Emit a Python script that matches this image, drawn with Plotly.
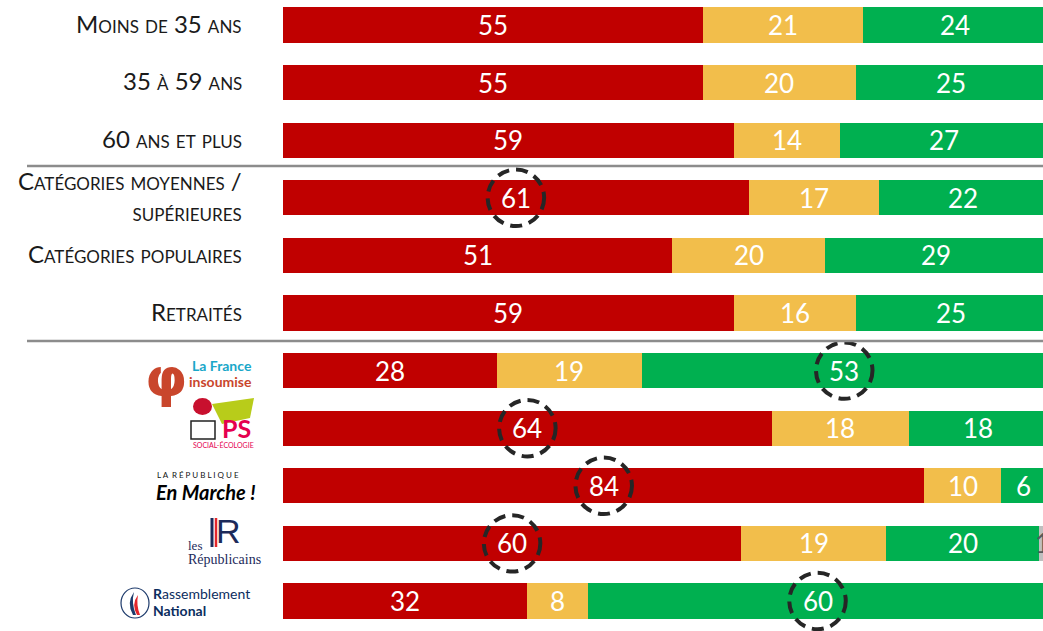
import plotly.graph_objects as go

# ---------------- data ----------------
labels = ["Moins de 35 ans", "35 à 59 ans", "60 ans et plus",
          "Catégories moyennes /<br>supérieures", "Catégories populaires", "Retraités",
          "La France insoumise", "PS", "En Marche !", "Les Républicains", "Rassemblement National"]
red_vals = [55, 55, 59, 61, 51, 59, 28, 64, 84, 60, 32]
yellow_vals = [21, 20, 14, 17, 20, 16, 19, 18, 10, 19, 8]
green_vals = [24, 25, 27, 22, 29, 25, 53, 18, 6, 20, 60]
grey_vals = [0, 0, 0, 0, 0, 0, 0, 0, 0, 1, 0]
# which segment is circled per row (None / 'red' / 'green')
circled = [None, None, None, "red", None, None, "green", "red", "red", "red", "green"]
text_label_rows = 6  # first 6 rows have text labels, others are party logos

W, H = 1043, 631
RED, YEL, GRN, GRY = "#C00000", "#F2BE4B", "#00B050", "#BFBFBF"

rows = list(range(len(labels)))
fig = go.Figure()
series = [("red", red_vals, RED), ("yellow", yellow_vals, YEL),
          ("green", green_vals, GRN), ("grey", grey_vals, GRY)]
for name, vals, col in series:
    fig.add_trace(go.Bar(y=rows, x=vals, orientation="h", name=name,
                         marker=dict(color=col, line=dict(width=0)),
                         width=0.61, hoverinfo="skip"))

def px(x):
    return x / W

def py(y):
    return 1 - y / H

annotations = []
shapes = []
# value labels
for i in rows:
    start = 0
    for name, vals, col in series:
        v = vals[i]
        if v > 0:
            c = start + v / 2
            annotations.append(dict(x=c, y=i, xref="x", yref="y", text=str(v), showarrow=False,
                                    font=dict(family="Lato", size=26,
                                              color="white" if name != "grey" else "#595959")))
            if circled[i] == name:
                shapes.append(dict(type="circle", xref="x", yref="y",
                                   x0=c - 3.7, x1=c + 3.7, y0=i - 0.49, y1=i + 0.49,
                                   line=dict(color="#262626", width=4, dash="12px,7px")))
        start += v

# row text labels
for i in range(text_label_rows):
    annotations.append(dict(x=px(244), y=i, xref="paper", yref="y", text=labels[i],
                            xanchor="right", showarrow=False, align="right", yshift=2,
                            font=dict(family="Lato", size=24, color="#1a1a1a", variant="small-caps")))

# separators
for yy in (166, 341):
    shapes.append(dict(type="line", xref="paper", yref="paper", x0=px(27), x1=1,
                       y0=py(yy), y1=py(yy), line=dict(color="#8C8C8C", width=2.5)))

# ---- party logos (approximations) ----
def ann(x, y, text, size, color, xanchor="center", family="Lato", **kw):
    annotations.append(dict(x=px(x), y=py(y), xref="paper", yref="paper", text=text,
                            showarrow=False, xanchor=xanchor, yanchor="middle",
                            font=dict(family=family, size=size, color=color, **kw)))

# LFI
ann(166, 377, "<b>φ</b>", 54, "#C9462C", family="DejaVu Sans")
ann(254, 365, "<b>La France</b>", 14, "#1AA7C9", xanchor="right")
ann(254, 381, "<b>insoumise</b>", 14, "#C9462C", xanchor="right")
# PS
shapes.append(dict(type="path", xref="paper", yref="paper", fillcolor="#B8CC1A", line=dict(width=0),
                   path=f"M {px(212)} {py(404)} L {px(254)} {py(398)} L {px(250)} {py(418)} L {px(222)} {py(424)} Z"))
shapes.append(dict(type="circle", xref="paper", yref="paper", fillcolor="#C8102E", line=dict(width=0),
                   x0=px(193), x1=px(212), y0=py(398), y1=py(415)))
shapes.append(dict(type="rect", xref="paper", yref="paper", fillcolor="white", line=dict(width=1.5, color="#222"),
                   x0=px(191), x1=px(215), y0=py(421), y1=py(439)))
ann(253, 428, "<b>PS</b>", 25, "#E5004F", xanchor="right")
ann(223, 445, "SOCIAL-ÉCOLOGIE", 7, "#E5004F")
# LREM
ann(198, 475, "L A  R É P U B L I Q U E", 8, "#111")
ann(258, 492, "<b><i>En Marche !</i></b>", 20, "#000", xanchor="right")
# LR
shapes.append(dict(type="line", xref="paper", yref="paper", x0=px(212), x1=px(212), y0=py(518), y1=py(547),
                   line=dict(color="#1C2A5A", width=3)))
shapes.append(dict(type="line", xref="paper", yref="paper", x0=px(216), x1=px(216), y0=py(518), y1=py(547),
                   line=dict(color="#E4262B", width=2.5)))
ann(228, 531, "R", 34, "#1C2A5A", family="Liberation Sans")
ann(186, 545, "les", 13, "#1C2A5A", xanchor="left", family="Liberation Serif")
ann(186, 559, "Républicains", 14, "#1C2A5A", xanchor="left", family="Liberation Serif")
# RN
shapes.append(dict(type="circle", xref="paper", yref="paper", line=dict(color="#1D3A6B", width=1.2),
                   x0=px(121), x1=px(149), y0=py(588), y1=py(618)))
shapes.append(dict(type="path", xref="paper", yref="paper", fillcolor="#1D3A6B", line=dict(width=0),
                   path=f"M {px(133)} {py(615)} Q {px(126)} {py(603)} {px(134)} {py(592)} Q {px(131)} {py(603)} {px(136)} {py(615)} Z"))
shapes.append(dict(type="path", xref="paper", yref="paper", fillcolor="#E4262B", line=dict(width=0),
                   path=f"M {px(137)} {py(615)} Q {px(131)} {py(604)} {px(138)} {py(595)} Q {px(136)} {py(605)} {px(140)} {py(615)} Z"))
ann(151, 593, "<b>R</b>assemblement", 14, "#0B2D5E", xanchor="left")
ann(151, 610, "<b>National</b>", 14, "#0B2D5E", xanchor="left")

# axis ranges: row i centred at 25 + 57.6*i px
ppu_y = 57.6
y_top = 0 - 25 / ppu_y
y_bot = (H - 25) / ppu_y

fig.update_layout(
    width=W, height=H, barmode="stack", showlegend=False,
    margin=dict(l=0, r=0, t=0, b=0),
    plot_bgcolor="white", paper_bgcolor="white",
    xaxis=dict(domain=[283 / W, 1], range=[0, 760 / 7.636], visible=False, fixedrange=True),
    yaxis=dict(range=[y_bot, y_top], visible=False, fixedrange=True),
    annotations=annotations, shapes=shapes,
)

fig.write_html("out.html", post_script="document.body.style.margin='0';document.body.style.overflow='hidden';",
               config={"displayModeBar": False})
